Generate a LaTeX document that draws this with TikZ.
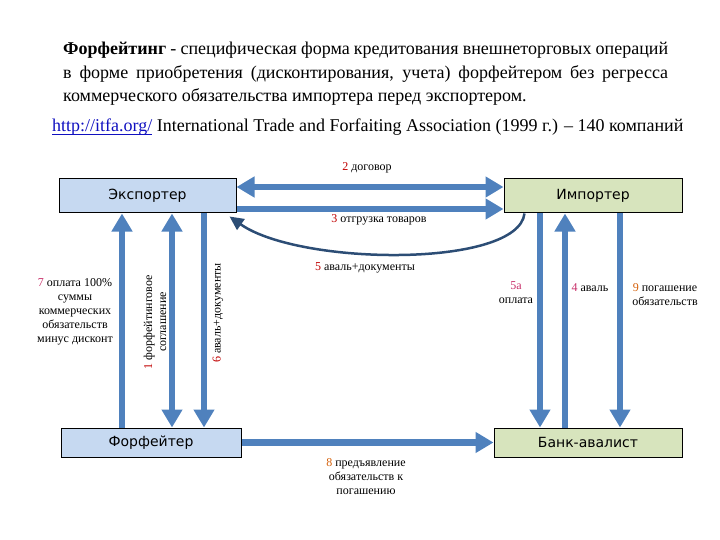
\documentclass[tikz,border=0pt]{standalone}
\usepackage{fontspec}
\setmainfont{Liberation Serif}
\newfontfamily\boxfont{DejaVu Sans}
\usetikzlibrary{arrows.meta,calc}
\definecolor{arrblue}{HTML}{4F81BD}
\definecolor{curveblue}{HTML}{2C4D75}
\definecolor{boxblue}{HTML}{C6D9F1}
\definecolor{boxgreen}{HTML}{D7E4BD}
\definecolor{numred}{HTML}{C00000}
\definecolor{nummag}{HTML}{C8306A}
\definecolor{numor}{HTML}{D4600A}
\definecolor{linkblue}{HTML}{1010C0}
\newcommand\myul[1]{\setbox0\hbox{#1}\rlap{\rule[-2.5pt]{\wd0}{0.9pt}}\box0}
\begin{document}
\begin{tikzpicture}[x=1pt,y=-1pt,
  party/.style={draw=black, line width=1pt, inner sep=0pt, font=\boxfont\fontsize{14}{16}\selectfont},
  fat/.style={draw=arrblue, line width=6.5pt, -{Triangle[width=20pt,length=18pt]}},
  fatboth/.style={draw=arrblue, line width=6.5pt, {Triangle[width=20pt,length=18pt]}-{Triangle[width=20pt,length=18pt]}},
  curv/.style={draw=curveblue, line width=2.5pt, -{Triangle[width=13pt,length=14pt]}},
  lbl/.style={inner sep=0pt, align=center, font=\fontsize{12}{14}\selectfont}]
\useasboundingbox (0,0) rectangle (720,540);

% title
\node[anchor=north west, inner sep=0pt, align=left, font=\fontsize{18}{23.5}\selectfont] (title) at (63,42)
 {\makebox[605pt][s]{\textbf{Форфейтинг} - специфическая форма кредитования внешнеторговых операций}\\
  \makebox[605pt][s]{в форме приобретения (дисконтирования, учета) форфейтером без регресса}\\
  коммерческого обязательства импортера перед экспортером.};
\node[anchor=base west, inner sep=0pt, font=\fontsize{18}{20}\selectfont] (url) at (52,132)
 {\textcolor{linkblue}{\myul{http://itfa.org/}} International Trade and Forfaiting Association (1999 г.) – 140 компаний};

% boxes
\node[party, fill=boxblue, minimum width=177pt, minimum height=34pt] (exp) at (147.5,196) {Экспортер};
\node[party, fill=boxgreen, minimum width=178pt, minimum height=34pt] (imp) at (593,196) {Импортер};
\node[party, fill=boxblue, minimum width=180pt, minimum height=29pt] (fo) at (151,442.5) {Форфейтер};
\node[party, fill=boxgreen, minimum width=188pt, minimum height=29pt] (bank) at (588,442.5) {Банк-авалист};

% helper x positions
\coordinate (x7) at (122,0);
\coordinate (x1) at (172,0);
\coordinate (x6) at (204,0);
\coordinate (x5a) at (540,0);
\coordinate (x4) at (565,0);
\coordinate (x9) at (620,0);

% horizontal arrows
\draw[fatboth] ([yshift=9pt]exp.east) -- ([yshift=9pt]imp.west);
\draw[fat] ([yshift=-13pt]exp.east) -- ([yshift=-13pt]imp.west);
\draw[fat] (fo.east) -- (bank.west);

% curved arrow 5
\draw[curv] ([xshift=21pt]imp.south west) .. controls (518,268) and (300,266) .. ([xshift=-7pt,yshift=-3pt]exp.south east);

% left verticals
\draw[fat] (fo.north -| x7) -- (exp.south -| x7);
\draw[fatboth] (fo.north -| x1) -- (exp.south -| x1);
\draw[fat] (exp.south -| x6) -- (fo.north -| x6);

% right verticals
\draw[fat] (imp.south -| x5a) -- (bank.north -| x5a);
\draw[fat] (bank.north -| x4) -- (imp.south -| x4);
\draw[fat] (imp.south -| x9) -- (bank.north -| x9);

% labels
\node[lbl] (l2) at (367,168) {\textcolor{numred}{2} договор};
\node[lbl] (l3) at (379,220) {\textcolor{numred}{3} отгрузка товаров};
\node[lbl] (l5) at (365,268) {\textcolor{numred}{5} аваль+документы};
\node[lbl] (l7) at (75,312) {\textcolor{nummag}{7} оплата 100\%\\суммы\\коммерческих\\обязательств\\минус дисконт};
\node[lbl, rotate=90] (l1) at (155,322) {\textcolor{numred}{1} форфейтинговое\\соглашение};
\node[lbl, rotate=90] (l6) at (218,313) {\textcolor{numred}{6} аваль+документы};
\node[lbl] (l5a) at (516,293) {\textcolor{nummag}{5а}\\оплата};
\node[lbl] (l4) at (590,288) {\textcolor{nummag}{4} аваль};
\node[lbl] (l9) at (665,295) {\textcolor{numor}{9} погашение\\обязательств};
\node[lbl] (l8) at (366,477) {\textcolor{numor}{8} предъявление\\обязательств к\\погашению};
\end{tikzpicture}
\end{document}
